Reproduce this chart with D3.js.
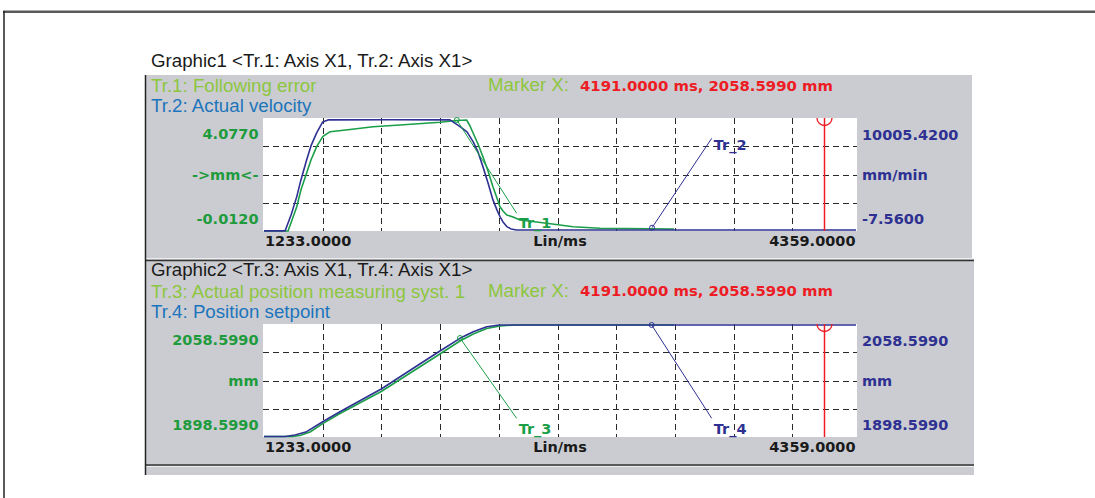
<!DOCTYPE html>
<html><head><meta charset="utf-8">
<script src="https://cdn.jsdelivr.net/npm/d3@7"></script>
<style>body{margin:0;background:#fff;} svg{display:block;}</style>
</head><body>
<svg id="c" width="1095" height="498"></svg>
<script>
// ---------- data ----------
const timeDomain = [1233, 4359];
const markerTime = 4191;
const gridTimes = [1543, 1853, 2163, 2473, 2783, 3093, 3403, 3713, 4023];
const xLabels = ["1233.0000", "Lin/ms", "4359.0000"];

// Graphic 1
const g1Title = "Graphic1 <Tr.1: Axis X1, Tr.2: Axis X1>";
const g1Legend = ["Tr.1: Following error", "Tr.2: Actual velocity"];
const g1Marker = "4191.0000 ms, 2058.5990 mm";
const g1LeftDomain = [-0.012, 4.077];
const g1RightDomain = [-7.56, 10005.42];
const g1LeftLabels = ["4.0770", "->mm<-", "-0.0120"];
const g1RightLabels = ["10005.4200", "mm/min", "-7.5600"];

const tr1Time = [1233, 1360, 1381, 1406, 1428, 1458, 1481, 1511, 1543, 1582, 1687, 1809, 1951, 2162, 2251, 2303, 2321, 2337, 2363, 2389, 2416, 2442, 2463, 2479, 2495, 2515, 2548, 2585, 2726, 2865, 3007, 3398];
const tr1Value = [-0.012, -0.012, 0.386, 0.867, 1.472, 2.087, 2.557, 3.039, 3.400, 3.581, 3.661, 3.762, 3.824, 3.921, 3.987, 4.005, 3.788, 3.534, 3.136, 2.677, 2.159, 1.591, 1.182, 0.867, 0.712, 0.567, 0.495, 0.386, 0.267, 0.144, 0.086, 0.060];

const tr2Time = [1233, 1344, 1376, 1406, 1428, 1458, 1481, 1511, 1543, 1571, 1900, 2215, 2268, 2305, 2337, 2363, 2389, 2416, 2442, 2463, 2479, 2495, 2515, 2537, 2567, 4359];
const tr2Value = [0, 0, 1418, 3039, 4519, 6291, 7532, 8683, 9658, 9835, 9850, 9835, 9242, 8772, 7912, 7000, 5697, 4253, 2747, 1861, 1267, 797, 381, 177, 81, 81];

// Graphic 2
const g2Title = "Graphic2 <Tr.3: Axis X1, Tr.4: Axis X1>";
const g2Legend = ["Tr.3: Actual position measuring syst. 1", "Tr.4: Position setpoint"];
const g2Marker = "4191.0000 ms, 2058.5990 mm";
const g2Domain = [1898.599, 2058.599];
const g2LeftLabels = ["2058.5990", "mm", "1898.5990"];
const g2RightLabels = ["2058.5990", "mm", "1898.5990"];

const tr3Time = [1233, 1381, 1423, 1476, 1543, 1634, 1852, 2162, 2268, 2338, 2409, 2479, 2558, 3398];
const tr3Value = [1898.6, 1898.6, 1900.0, 1905.1, 1917.0, 1931.6, 1963.2, 2017.0, 2035.6, 2045.7, 2053.6, 2057.2, 2058.6, 2058.6];

const tr4Time = [1233, 1344, 1397, 1458, 1543, 1634, 1852, 2162, 2268, 2338, 2409, 2474, 4359];
const tr4Value = [1898.6, 1898.6, 1900.8, 1905.5, 1919.8, 1934.2, 1966.8, 2021.3, 2039.5, 2049.0, 2056.2, 2058.6, 2058.6];

// trace labels with leader lines: from (time, value) on the trace to (time, value) at the label
const tag1 = {text: "Tr_1", from: [2251, 4.005], to: [2567, 0.629]};
const tag2 = {text: "Tr_2", from: [3282, 285], to: [3597, 8206]};
const tag3 = {text: "Tr_3", from: [2268, 2039.9], to: [2567, 1924.7]};
const tag4 = {text: "Tr_4", from: [3280, 2058.6], to: [3597, 1924.7]};

// ---------- style ----------
const C = {
  grey: "#cbccd1", green: "#1e9b3c", lgreen: "#8dc63f", blue: "#1c75bc",
  navy: "#2e3192", tgreen: "#1a9e48", red: "#ed1c24", black: "#1a1a1a"
};
const bold = "'DejaVu Sans', sans-serif";
const reg = "'Liberation Sans', Arial, sans-serif";
const HF = 18.7;

const svg = d3.select("#c");

// outer frame
svg.append("line").attr("x1", 3).attr("x2", 1095).attr("y1", 10.5).attr("y2", 10.5).attr("stroke", "#aaa").attr("stroke-width", 1);
svg.append("line").attr("x1", 3).attr("x2", 1095).attr("y1", 12).attr("y2", 12).attr("stroke", "#222").attr("stroke-width", 1.5);
svg.append("line").attr("x1", 4).attr("x2", 4).attr("y1", 11).attr("y2", 498).attr("stroke", "#222").attr("stroke-width", 1.5);

// panel backgrounds
svg.append("rect").attr("x", 146).attr("y", 75).attr("width", 826).attr("height", 184).attr("fill", C.grey);
svg.append("rect").attr("x", 146).attr("y", 259).attr("width", 828).attr("height", 216).attr("fill", C.grey);
svg.append("line").attr("x1", 146).attr("x2", 974).attr("y1", 258.5).attr("y2", 258.5).attr("stroke", "#eee");
svg.append("line").attr("x1", 146).attr("x2", 974).attr("y1", 260.5).attr("y2", 260.5).attr("stroke", "#333").attr("stroke-width", 1.5);
svg.append("line").attr("x1", 146).attr("x2", 974).attr("y1", 465).attr("y2", 465).attr("stroke", "#333").attr("stroke-width", 1.5);
svg.append("line").attr("x1", 146).attr("x2", 974).attr("y1", 466.5).attr("y2", 466.5).attr("stroke", "#eee");
svg.append("line").attr("x1", 145.5).attr("x2", 145.5).attr("y1", 75).attr("y2", 475).attr("stroke", "#222").attr("stroke-width", 1.5);

const x = d3.scaleLinear().domain(timeDomain).range([264, 856]);
const line = (xs, ys, sc) => d3.line().x((d, i) => x(xs[i])).y((d, i) => sc(ys[i]))(xs);

function panel(o) {
  const g = svg.append("g");
  const top = o.top, bot = o.bottom;
  // title
  g.append("text").attr("x", 151).attr("y", o.titleY).attr("font-family", reg).attr("font-size", HF).attr("fill", C.black).text(o.title);
  g.append("text").attr("x", 151).attr("y", o.legY[0]).attr("font-family", reg).attr("font-size", HF).attr("fill", C.lgreen).text(o.legend[0]);
  g.append("text").attr("x", 151).attr("y", o.legY[1]).attr("font-family", reg).attr("font-size", HF).attr("fill", C.blue).text(o.legend[1]);
  g.append("text").attr("x", 488).attr("y", o.legY[0] - 1).attr("font-family", reg).attr("font-size", HF).attr("fill", C.lgreen).text("Marker X:");
  g.append("text").attr("x", 580).attr("y", o.legY[0] - 1.5).attr("font-family", bold).attr("font-weight", "bold").attr("font-size", 14.85).attr("fill", C.red).text(o.marker);

  // plot area
  g.append("rect").attr("x", 263).attr("y", top).attr("width", 594).attr("height", bot - top).attr("fill", "#fff");
  const gridC = "#2a2a2a";
  gridTimes.forEach(t => {
    g.append("line").attr("x1", Math.round(x(t)) + 0.5).attr("x2", Math.round(x(t)) + 0.5).attr("y1", top).attr("y2", bot)
      .attr("stroke", gridC).attr("stroke-width", 1).attr("stroke-dasharray", "6,4");
  });
  [0.25, 0.5, 0.75].forEach(f => {
    const yy = Math.round(top + (bot - top) * f) + 0.5;
    g.append("line").attr("x1", 263).attr("x2", 857).attr("y1", yy).attr("y2", yy)
      .attr("stroke", gridC).attr("stroke-width", 1).attr("stroke-dasharray", "6,4");
  });

  // traces
  o.traces.forEach(tr => {
    g.append("path").attr("d", line(tr.t, tr.v, tr.sc)).attr("fill", "none").attr("stroke", tr.color).attr("stroke-width", 1.6).attr("stroke-linejoin", "round");
  });

  // tags
  o.tags.forEach(tg => {
    const x1 = x(tg.tag.from[0]), y1 = tg.sc(tg.tag.from[1]);
    const x2 = x(tg.tag.to[0]), y2 = tg.sc(tg.tag.to[1]);
    g.append("line").attr("x1", x1).attr("y1", y1).attr("x2", x2).attr("y2", y2).attr("stroke", tg.color).attr("stroke-width", 1);
    g.append("circle").attr("cx", x1).attr("cy", y1).attr("r", 2.5).attr("fill", "none").attr("stroke", tg.color).attr("stroke-width", 1);
    g.append("text").attr("x", x2 + 2).attr("y", y2 + tg.dy).attr("font-family", bold).attr("font-weight", "bold").attr("font-size", 14.5).attr("fill", tg.color).text(tg.tag.text);
  });

  // marker
  const mx = Math.round(x(markerTime)) + 0.5;
  g.append("line").attr("x1", mx).attr("x2", mx).attr("y1", top).attr("y2", bot).attr("stroke", C.red).attr("stroke-width", 1.5);
  g.append("path").attr("d", `M${mx - 7.5},${top} A7.5,7.5 0 0 0 ${mx + 7.5},${top}`).attr("fill", "none").attr("stroke", C.red).attr("stroke-width", 1.3);

  // axis labels
  const lab = (tx, ty, s, col, anchor) => g.append("text").attr("x", tx).attr("y", ty).attr("text-anchor", anchor)
    .attr("font-family", bold).attr("font-weight", "bold").attr("font-size", 14.5).attr("fill", col).text(s);
  const offs = [20.5, 62, 105.5];
  o.leftLabels.forEach((s, i) => lab(258.5, top + offs[i], s, C.green, "end"));
  o.rightLabels.forEach((s, i) => lab(862, top + offs[i] + (i === 0 ? 1 : 0), s, C.navy, "start"));
  lab(265, bot + 15, xLabels[0], C.black, "start");
  lab(560, bot + 15, xLabels[1], C.black, "middle");
  lab(855.5, bot + 15, xLabels[2], C.black, "end");
}

const y1L = d3.scaleLinear().domain(g1LeftDomain).range([231, 118]);
const y1R = d3.scaleLinear().domain(g1RightDomain).range([231, 118]);
const y2 = d3.scaleLinear().domain(g2Domain).range([436.5, 325]);

panel({
  top: 118, bottom: 231, titleY: 67, legY: [92, 112],
  title: g1Title, legend: g1Legend, marker: g1Marker,
  leftLabels: g1LeftLabels, rightLabels: g1RightLabels,
  traces: [
    {t: tr1Time, v: tr1Value, sc: y1L, color: C.tgreen},
    {t: tr2Time, v: tr2Value, sc: y1R, color: C.navy}
  ],
  tags: [
    {tag: tag1, sc: y1L, color: C.tgreen, dy: 15},
    {tag: tag2, sc: y1R, color: C.navy, dy: 11.5}
  ]
});
panel({
  top: 324, bottom: 437, titleY: 276, legY: [297.5, 317.5],
  title: g2Title, legend: g2Legend, marker: g2Marker,
  leftLabels: g2LeftLabels, rightLabels: g2RightLabels,
  traces: [
    {t: tr3Time, v: tr3Value, sc: y2, color: C.tgreen},
    {t: tr4Time, v: tr4Value, sc: y2, color: C.navy}
  ],
  tags: [
    {tag: tag3, sc: y2, color: C.tgreen, dy: 15.5},
    {tag: tag4, sc: y2, color: C.navy, dy: 15.5}
  ]
});
</script>
</body></html>
